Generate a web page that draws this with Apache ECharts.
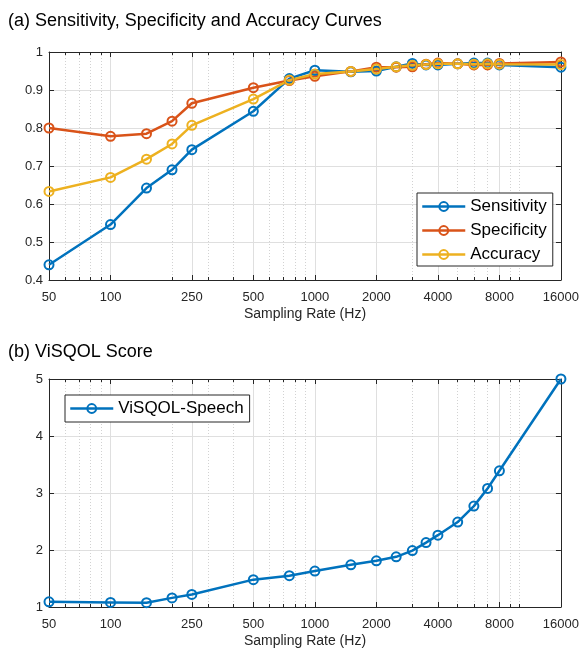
<!DOCTYPE html>
<html>
<head>
<meta charset="utf-8">
<script src="https://cdn.jsdelivr.net/npm/echarts@6/dist/echarts.min.js"></script>
<style>
html,body{margin:0;padding:0;background:#fff;}
#chart{width:582px;height:649px;}
</style>
</head>
<body>
<div id="chart"></div>
<script>
// ---- data ----
var samplingRates = [50, 100, 150, 200, 250, 500, 750, 1000, 1500, 2000, 2500, 3000, 3500, 4000, 5000, 6000, 7000, 8000, 16000];
var sensitivity = [0.440, 0.546, 0.642, 0.690, 0.743, 0.844, 0.930, 0.952, 0.948, 0.950, 0.961, 0.970, 0.966, 0.966, 0.969, 0.971, 0.971, 0.966, 0.960];
var specificity = [0.800, 0.778, 0.785, 0.818, 0.865, 0.906, 0.925, 0.936, 0.949, 0.960, 0.960, 0.961, 0.968, 0.971, 0.969, 0.966, 0.966, 0.970, 0.974];
var accuracy    = [0.633, 0.670, 0.718, 0.758, 0.807, 0.876, 0.926, 0.942, 0.949, 0.955, 0.961, 0.965, 0.967, 0.969, 0.969, 0.968, 0.969, 0.968, 0.967];
var visqol      = [1.09, 1.08, 1.075, 1.16, 1.22, 1.48, 1.55, 1.63, 1.74, 1.81, 1.88, 1.99, 2.13, 2.26, 2.49, 2.77, 3.08, 3.39, 5.00];
var majorTicks = [50, 100, 250, 500, 1000, 2000, 4000, 8000, 16000];
var minorTicks = [60, 70, 80, 90, 200, 300, 400, 600, 700, 800, 900, 3000, 5000, 6000, 7000, 9000, 10000];
var titleA = '(a) Sensitivity, Specificity and Accuracy Curves';
var titleB = '(b) ViSQOL Score';
var xName = 'Sampling Rate (Hz)';

// ---- styling ----
var FONT = 'Liberation Sans';
var AX = '#262626';
var GRID = '#dfdfdf';
var MINOR = '#d2d2d2';
var BLUE = '#0072BD', ORANGE = '#D95319', YELLOW = '#EDB120';

function pairs(vals){ return samplingRates.map(function(x,i){ return [x, vals[i]]; }); }

function xAxes(gridIndex){
  var base = {type:'log', logBase:10, min:50, max:16000, gridIndex:gridIndex, silent:true};
  return [
    Object.assign({}, base, {
      position:'bottom',
      axisLine:{show:true, lineStyle:{color:AX, width:1}},
      axisTick:{show:true, inside:true, length:5, customValues:majorTicks, lineStyle:{color:AX}},
      axisLabel:{show:true, customValues:majorTicks, margin:11, color:AX, fontSize:13, fontFamily:FONT, formatter:function(v){return String(v);}},
      splitLine:{show:true, lineStyle:{color:GRID, width:1}},
      name:xName, nameLocation:'middle', nameGap:27,
      nameTextStyle:{color:AX, fontSize:14, fontFamily:FONT}
    }),
    Object.assign({}, base, {
      position:'bottom',
      axisLine:{show:false},
      axisTick:{show:true, inside:true, length:3, customValues:minorTicks, lineStyle:{color:AX}},
      axisLabel:{show:false},
      splitLine:{show:true, lineStyle:{color:MINOR, width:1, type:[1,2]}}
    }),
    Object.assign({}, base, {
      position:'top',
      axisLine:{show:true, lineStyle:{color:AX, width:1}},
      axisTick:{show:true, inside:true, length:5, customValues:majorTicks, lineStyle:{color:AX}},
      axisLabel:{show:false},
      splitLine:{show:false}
    }),
    Object.assign({}, base, {
      position:'top',
      axisLine:{show:false},
      axisTick:{show:true, inside:true, length:3, customValues:minorTicks, lineStyle:{color:AX}},
      axisLabel:{show:false},
      splitLine:{show:false}
    })
  ];
}

function yAxes(gridIndex, min, max, interval){
  return [
    {type:'value', gridIndex:gridIndex, min:min, max:max, interval:interval, position:'left', silent:true,
     axisLine:{show:true, lineStyle:{color:AX, width:1}},
     axisTick:{show:true, inside:true, length:5, lineStyle:{color:AX}},
     axisLabel:{show:true, margin:6, color:AX, fontSize:13, fontFamily:FONT},
     splitLine:{show:true, lineStyle:{color:GRID, width:1}}},
    {type:'value', gridIndex:gridIndex, min:min, max:max, interval:interval, position:'right', silent:true,
     axisLine:{show:true, lineStyle:{color:AX, width:1}},
     axisTick:{show:true, inside:true, length:5, lineStyle:{color:AX}},
     axisLabel:{show:false},
     splitLine:{show:false}}
  ];
}

function lineSeries(name, vals, color, xIdx, yIdx){
  return {
    name:name, type:'line', data:pairs(vals), xAxisIndex:xIdx, yAxisIndex:yIdx,
    symbol:'circle', symbolSize:9, showAllSymbol:true, clip:false,
    lineStyle:{color:color, width:2.5},
    itemStyle:{color:'rgba(255,255,255,0)', borderColor:color, borderWidth:2},
    emphasis:{disabled:true}, animation:false
  };
}

function legendItem(name, color){
  return {name:name, itemStyle:{color:'rgba(255,255,255,0)', borderColor:color, borderWidth:2}, lineStyle:{color:color, width:2.5}};
}

var legendBase = {
  orient:'vertical', backgroundColor:'#fff', borderColor:AX, borderWidth:1,
  padding:[5,6,3,4], itemGap:7, itemWidth:43, itemHeight:11, selectedMode:false,
  textStyle:{color:'#000', fontSize:17, fontFamily:FONT}
};

var chart = echarts.init(document.getElementById('chart'), null, {renderer:'canvas'});
chart.setOption({
  animation:false,
  backgroundColor:'#fff',
  title:[
    {text:titleA, left:8, top:12, padding:0, textStyle:{color:'#000', fontSize:18, fontWeight:'normal', fontFamily:FONT}},
    {text:titleB, left:8, top:343, padding:0, textStyle:{color:'#000', fontSize:18, fontWeight:'normal', fontFamily:FONT}}
  ],
  grid:[
    {left:49, top:52, width:513, height:228},
    {left:49, top:379, width:513, height:228}
  ],
  xAxis: xAxes(0).concat(xAxes(1)),
  yAxis: yAxes(0, 0.4, 1, 0.1).concat(yAxes(1, 1, 5, 1)),
  legend:[
    Object.assign({}, legendBase, {left:417, top:193, data:[legendItem('Sensitivity', BLUE), legendItem('Specificity', ORANGE), legendItem('Accuracy', YELLOW)]}),
    Object.assign({}, legendBase, {left:65, top:395, padding:[5,6,5,4], data:[legendItem('ViSQOL-Speech', BLUE)]})
  ],
  series:[
    lineSeries('Sensitivity', sensitivity, BLUE, 0, 0),
    lineSeries('Specificity', specificity, ORANGE, 0, 0),
    lineSeries('Accuracy', accuracy, YELLOW, 0, 0),
    lineSeries('ViSQOL-Speech', visqol, BLUE, 4, 2)
  ]
});
</script>
</body>
</html>
